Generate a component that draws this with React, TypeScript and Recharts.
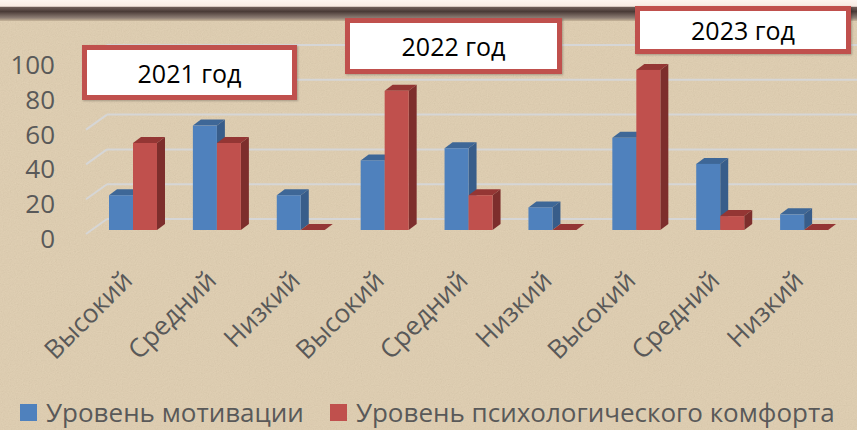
import React from 'react';
import { BarChart, Bar, XAxis, YAxis, CartesianGrid, Legend } from 'recharts';

const YEARS = ['2021 год', '2022 год', '2023 год'];
const CATEGORIES = ['Высокий', 'Средний', 'Низкий', 'Высокий', 'Средний', 'Низкий', 'Высокий', 'Средний', 'Низкий'];
const MOTIVATION = [20, 60, 20, 40, 47, 13, 53, 38, 9];
const COMFORT = [50, 50, 0, 80, 20, 0, 92, 8, 0];
const Y_TICKS = [0, 20, 40, 60, 80, 100];
const SERIES_NAMES = ['Уровень мотивации', 'Уровень психологического комфорта'];
const SERIES_COLORS = ['#4F81BD', '#C0504D'];

const data = CATEGORIES.map((c, i) => ({
  key: `${YEARS[Math.floor(i / 3)]} ${c}`,
  label: c,
  motivation: MOTIVATION[i],
  comfort: COMFORT[i],
}));

const FONT = '"Open Sans", "Noto Sans", sans-serif';
const GRID_SHIFT = 11;

const make3D = (front: string, top: string, side: string) => (props: any) => {
  const { x, y, width, height } = props;
  if (x == null || y == null) return null;
  const dx = 8;
  const dy = 6;
  const h = Math.max(0, height || 0);
  return (
    <g>
      <path d={`M${x},${y} L${x + dx},${y - dy} L${x + width + dx},${y - dy} L${x + width},${y} Z`} fill={top} />
      {h > 0 && (
        <path
          d={`M${x + width},${y} L${x + width + dx},${y - dy} L${x + width + dx},${y + h - dy} L${x + width},${y + h} Z`}
          fill={side}
        />
      )}
      {h > 0 && <rect x={x} y={y} width={width} height={h} fill={front} />}
    </g>
  );
};

const YTick = (props: any) => {
  const { y, payload } = props;
  return (
    <g>
      <line x1={86} y1={y + 4} x2={107} y2={y - GRID_SHIFT} stroke="#D6D6D6" strokeWidth={2} />
      <text x={55} y={y + 8} textAnchor="end" dominantBaseline="central" fontSize={26} fontFamily={FONT} fill="#595959">
        {payload.value}
      </text>
    </g>
  );
};

const XTick = (props: any) => {
  const { x, y, index } = props;
  return (
    <text
      transform={`translate(${x + 1},${y + 52}) rotate(-45)`}
      textAnchor="end"
      fontSize={26}
      fontFamily={FONT}
      fill="#595959"
    >
      {CATEGORIES[index]}
    </text>
  );
};

const LegendContent = () => (
  <div style={{ display: 'flex', alignItems: 'center', whiteSpace: 'nowrap', fontFamily: FONT, fontSize: 26, color: '#595959' }}>
    {SERIES_NAMES.map((n, i) => (
      <div key={n} style={{ display: 'flex', alignItems: 'center', marginRight: 26 }}>
        <div style={{ width: 17, height: 17, background: SERIES_COLORS[i], marginRight: 9 }} />
        <span style={{ lineHeight: '28px' }}>{n}</span>
      </div>
    ))}
  </div>
);

const boxes = [
  { text: YEARS[0], left: 82, top: 45, width: 215, height: 55 },
  { text: YEARS[1], left: 345, top: 18, width: 217, height: 56 },
  { text: YEARS[2], left: 635, top: 6, width: 216, height: 48 },
];

export default function App() {
  return (
    <div style={{ position: 'absolute', left: 0, top: 0, width: 857, height: 430, overflow: 'hidden', background: '#E2CFAF' }}>
      <svg width={857} height={430} style={{ position: 'absolute', left: 0, top: 0 }}>
        <defs>
          <filter id="noise" x="0" y="0" width="100%" height="100%">
            <feTurbulence type="fractalNoise" baseFrequency="0.85" numOctaves="2" stitchTiles="stitch" />
            <feColorMatrix type="matrix" values="0.33 0.33 0.33 0 0  0.33 0.33 0.33 0 0  0.33 0.33 0.33 0 0  0 0 0 0 1" />
          </filter>
          <linearGradient id="band" x1="0" y1="0" x2="0" y2="1">
            <stop offset="0" stopColor="#FDF4EF" />
            <stop offset="0.3" stopColor="#F8EAE2" />
            <stop offset="0.34" stopColor="#6E5C57" />
            <stop offset="0.55" stopColor="#4A3B37" />
            <stop offset="0.85" stopColor="#8D7D74" />
            <stop offset="1" stopColor="#C7B599" />
          </linearGradient>
        </defs>
        <rect x={0} y={0} width={857} height={430} fill="#E2CFAF" />
        <rect x={0} y={0} width={857} height={430} filter="url(#noise)" opacity={0.13} />
        <rect x={0} y={0} width={857} height={21} fill="url(#band)" />
      </svg>
      <div style={{ position: 'absolute', left: 0, top: 0 }}>
        <BarChart
          width={857}
          height={430}
          data={data}
          margin={{ top: 56, right: 11, left: 0, bottom: 60 }}
          barSize={24}
          barGap={0}
        >
          <CartesianGrid
            vertical={false}
            stroke="#D6D6D6"
            strokeWidth={2}
            x={107}
            width={750}
            horizontalCoordinatesGenerator={(args: any) => {
              const ys = args?.yAxis?.scale;
              const off = args?.offset;
              return Y_TICKS.map((t) =>
                (typeof ys === 'function' ? ys(t) : off.top + off.height * (1 - t / 100)) - GRID_SHIFT
              );
            }}
          />
          <XAxis
            dataKey="key"
            interval={0}
            axisLine={false}
            tickLine={false}
            tickSize={0}
            tickMargin={0}
            height={140}
            tick={<XTick />}
          />
          <YAxis
            domain={[0, 100]}
            ticks={Y_TICKS}
            axisLine={false}
            tickLine={false}
            width={91}
            tick={<YTick />}
          />
          <Legend
            layout="horizontal"
            verticalAlign="middle"
            align="center"
            wrapperStyle={{ left: 20, top: 398, width: 900, height: 28 }}
            content={<LegendContent />}
          />
          <Bar
            dataKey="motivation"
            name={SERIES_NAMES[0]}
            fill={SERIES_COLORS[0]}
            isAnimationActive={false}
            shape={make3D('#4F81BD', '#3E6797', '#385D8A')}
          />
          <Bar
            dataKey="comfort"
            name={SERIES_NAMES[1]}
            fill={SERIES_COLORS[1]}
            isAnimationActive={false}
            shape={make3D('#C0504D', '#943634', '#7D2E2C')}
          />
        </BarChart>
      </div>
      {boxes.map((b) => (
        <div
          key={b.text}
          style={{
            position: 'absolute',
            left: b.left,
            top: b.top,
            width: b.width,
            height: b.height,
            boxSizing: 'border-box',
            border: '5px solid #C0504D',
            background: '#FFFFFF',
            display: 'flex',
            alignItems: 'center',
            justifyContent: 'center',
            fontFamily: FONT,
            fontSize: 25,
            color: '#000000',
            boxShadow: '1px 1px 2px rgba(0,0,0,0.25)',
          }}
        >
          {b.text}
        </div>
      ))}
    </div>
  );
}
